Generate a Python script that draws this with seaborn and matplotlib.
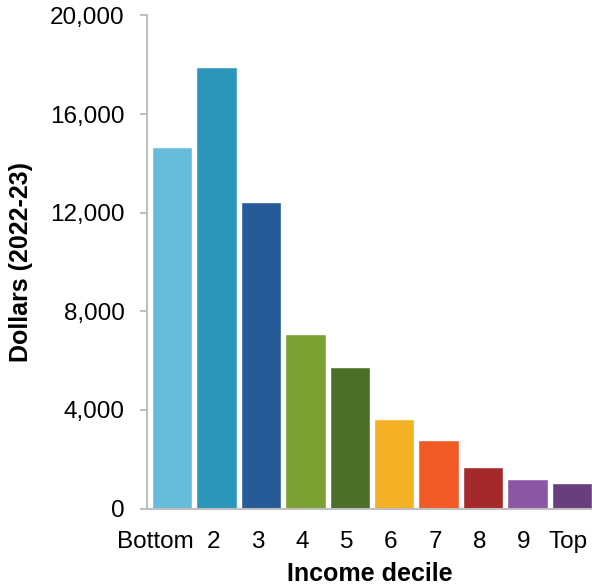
import matplotlib
matplotlib.use("Agg")
import matplotlib.pyplot as plt
import matplotlib.transforms as mtransforms
from matplotlib.ticker import FuncFormatter
import seaborn as sns
import pandas as pd

# Data
deciles = ["Bottom", "2", "3", "4", "5", "6", "7", "8", "9", "Top"]
dollars = [14680, 17890, 12450, 7090, 5750, 3630, 2770, 1690, 1200, 1040]
colours = ["#67BCDB", "#2B96BA", "#265A99", "#7AA131", "#4C6F28",
           "#F4B125", "#F15A25", "#A5282A", "#8B56A4", "#673F7A"]

sns.set_style("white")
plt.rcParams["font.family"] = ["Liberation Sans", "DejaVu Sans"]

df = pd.DataFrame({"decile": deciles, "dollars": dollars})

fig = plt.figure(figsize=(5.92, 5.87), dpi=100)
ax = fig.add_axes([0.248, 0.1337, 0.752, 0.840])

sns.barplot(data=df, x="decile", y="dollars", hue="decile",
            palette=colours, order=deciles, hue_order=deciles,
            width=0.91, saturation=1, legend=False, ax=ax)

ax.set_ylim(0, 20000)
ax.set_xlim(-0.574, 9.455)
ax.set_yticks(range(0, 20001, 4000))
ax.yaxis.set_major_formatter(FuncFormatter(lambda v, p: f"{int(v):,}"))

grey = "#BFBFBF"
for side in ["top", "right"]:
    ax.spines[side].set_visible(False)
for side in ["left", "bottom"]:
    ax.spines[side].set_color(grey)
    ax.spines[side].set_linewidth(1.5)

ax.tick_params(axis="y", left=True, length=5, width=1.5, color=grey,
               labelsize=17.5, pad=11, labelcolor="black")
ax.tick_params(axis="x", bottom=False, labelsize=17.5, pad=13, labelcolor="black")

# first label sits a bit left of its bar, as in the original
labels = ax.get_xticklabels()
labels[0].set_transform(labels[0].get_transform() +
                        mtransforms.ScaledTranslation(-0.17, 0, fig.dpi_scale_trans))
for lab in labels[1:]:
    lab.set_transform(lab.get_transform() +
                      mtransforms.ScaledTranslation(-0.035, 0, fig.dpi_scale_trans))

ax.set_xlabel("Income decile", fontsize=18, fontweight="bold", labelpad=6, color="black")
ax.set_ylabel("Dollars (2022-23)", fontsize=18, fontweight="bold", labelpad=12, color="black")

fig.savefig("out.png", dpi=100)
plt.close(fig)
